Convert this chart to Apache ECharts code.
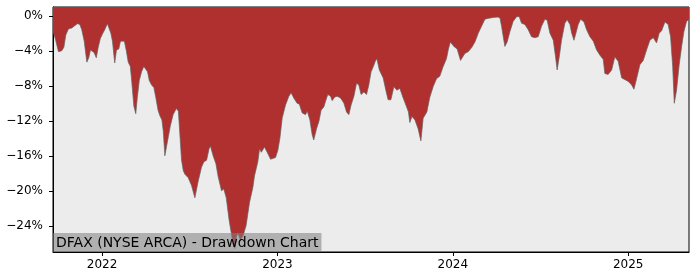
<!DOCTYPE html>
<html>
<head>
<meta charset="utf-8">
<script src="https://cdn.jsdelivr.net/npm/echarts@6/dist/echarts.min.js"></script>
<style>html,body{margin:0;padding:0;background:#fff;}#chart{width:700px;height:280px;}</style>
</head>
<body>
<div id="chart"></div>
<script>
// Time (decimal years)
var years = [
2021.720,2021.733,2021.751,2021.762,2021.770,2021.782,2021.793,2021.808,2021.827,2021.846,
2021.859,2021.873,2021.884,2021.898,2021.913,2021.924,2021.934,2021.945,2021.954,2021.967,
2021.978,2021.990,2022.004,2022.015,2022.030,2022.040,2022.050,2022.059,2022.072,2022.082,
2022.095,2022.105,2022.115,2022.127,2022.138,2022.149,2022.161,2022.169,2022.181,2022.192,
2022.201,2022.212,2022.225,2022.238,2022.249,2022.259,2022.269,2022.282,2022.295,2022.306,
2022.319,2022.329,2022.341,2022.349,2022.358,2022.367,2022.378,2022.389,2022.405,2022.423,
2022.435,2022.445,2022.453,2022.463,2022.472,2022.491,2022.510,2022.529,2022.538,2022.548,
2022.567,2022.580,2022.596,2022.610,2022.618,2022.633,2022.649,2022.662,2022.681,2022.694,
2022.708,2022.724,2022.738,2022.748,2022.757,2022.766,2022.774,2022.788,2022.803,2022.821,
2022.841,2022.860,2022.869,2022.888,2022.898,2022.908,2022.926,2022.939,2022.961,2022.989,
2023.002,2023.014,2023.027,2023.046,2023.065,2023.078,2023.093,2023.112,2023.125,2023.141,
2023.160,2023.170,2023.185,2023.198,2023.207,2023.223,2023.236,2023.249,2023.265,2023.274,
2023.287,2023.303,2023.312,2023.326,2023.340,2023.360,2023.379,2023.394,2023.407,2023.420,
2023.436,2023.451,2023.464,2023.477,2023.493,2023.508,2023.521,2023.534,2023.547,2023.558,
2023.567,2023.581,2023.603,2023.618,2023.631,2023.647,2023.664,2023.681,2023.698,2023.717,
2023.736,2023.747,2023.755,2023.767,2023.784,2023.802,2023.818,2023.831,2023.852,2023.869,
2023.888,2023.907,2023.926,2023.943,2023.964,2023.975,2023.986,2023.995,2024.006,2024.025,
2024.044,2024.052,2024.069,2024.088,2024.097,2024.109,2024.126,2024.134,2024.145,2024.164,
2024.183,2024.200,2024.230,2024.257,2024.269,2024.278,2024.287,2024.297,2024.310,2024.326,
2024.344,2024.364,2024.379,2024.392,2024.411,2024.430,2024.449,2024.468,2024.487,2024.506,
2024.525,2024.538,2024.554,2024.573,2024.586,2024.595,2024.607,2024.620,2024.639,2024.652,
2024.668,2024.678,2024.691,2024.702,2024.715,2024.729,2024.748,2024.763,2024.782,2024.801,
2024.820,2024.839,2024.858,2024.867,2024.886,2024.906,2024.924,2024.943,2024.963,2024.982,
2025.000,2025.020,2025.033,2025.048,2025.067,2025.086,2025.105,2025.124,2025.143,2025.162,
2025.177,2025.191,2025.210,2025.228,2025.242,2025.254,2025.263,2025.276,2025.291,2025.305,
2025.318,2025.333,2025.347
];
// Drawdown in percent
var drawdown = [
-1.8,-2.6,-4.1,-4.3,-4.0,-3.6,-2.2,-1.5,-1.4,-1.1,
-0.9,-1.0,-1.6,-2.9,-5.3,-4.8,-3.9,-3.7,-4.2,-4.8,
-3.6,-2.6,-2.0,-1.6,-0.9,-1.0,-2.0,-2.9,-5.4,-3.9,
-3.8,-2.9,-3.0,-2.9,-4.0,-5.3,-5.8,-7.5,-10.3,-11.2,
-9.3,-7.4,-6.4,-5.8,-5.6,-6.4,-7.4,-7.9,-8.2,-9.3,
-10.8,-11.4,-11.9,-13.2,-16.0,-15.0,-13.8,-12.6,-11.3,-10.6,
-10.9,-14.0,-16.5,-17.7,-18.1,-18.5,-19.4,-20.8,-20.7,-18.9,
-17.3,-16.7,-16.5,-15.2,-14.9,-16.0,-16.9,-18.4,-20.0,-19.8,
-20.8,-23.3,-25.0,-26.2,-26.6,-25.3,-24.8,-25.6,-25.2,-24.0,
-21.3,-19.6,-18.3,-16.7,-15.2,-15.6,-15.0,-15.5,-16.4,-16.2,
-15.4,-14.0,-11.7,-10.2,-9.2,-8.8,-9.4,-10.0,-10.1,-11.1,
-11.3,-10.9,-11.9,-13.6,-14.2,-12.9,-12.1,-10.8,-10.4,-9.8,
-9.0,-9.2,-9.7,-9.3,-9.2,-9.4,-10.0,-11.0,-11.3,-10.2,
-9.2,-7.7,-7.9,-9.0,-8.7,-9.0,-7.9,-6.4,-5.8,-5.2,
-4.9,-6.2,-7.1,-8.5,-9.6,-9.6,-8.1,-8.5,-8.3,-9.4,
-10.4,-11.0,-12.2,-11.5,-11.9,-12.9,-14.3,-11.7,-11.0,-9.3,
-8.1,-7.2,-6.9,-5.9,-4.9,-3.8,-3.0,-3.0,-3.5,-3.8,
-5.1,-5.0,-4.3,-4.1,-3.9,-3.6,-3.0,-2.6,-2.0,-1.2,
-0.4,-0.3,-0.2,-0.15,-0.25,-1.2,-2.3,-3.5,-3.0,-1.8,
-0.65,-0.1,-0.1,-0.85,-1.0,-1.6,-2.4,-2.5,-2.4,-1.2,
-0.4,-0.5,-2.0,-2.8,-4.7,-6.2,-4.7,-2.8,-0.85,-0.45,
-1.0,-2.0,-2.8,-2.0,-1.0,-0.4,-0.7,-1.6,-2.4,-2.9,
-3.9,-4.5,-5.0,-6.6,-6.7,-6.2,-4.7,-5.2,-7.1,-7.3,
-7.5,-7.9,-8.4,-7.2,-5.6,-5.1,-3.9,-2.8,-2.5,-3.1,
-2.0,-1.7,-0.7,-1.0,-2.4,-5.8,-10.0,-8.5,-5.6,-3.5,
-1.8,-0.65,-0.4
];
var xTickYears = [2022, 2023, 2024, 2025];
var yTickValues = [-24, -20, -16, -12, -8, -4, 0];
var chartTitle = 'DFAX (NYSE ARCA) - Drawdown Chart';

var seriesData = years.map(function (t, i) { return [t, drawdown[i]]; });
var font = 'DejaVu Sans';

var chart = echarts.init(document.getElementById('chart'), null, {renderer: 'canvas'});
chart.setOption({
  animation: false,
  backgroundColor: '#ffffff',
  title: {
    text: chartTitle,
    left: 53,
    top: 233,
    padding: [2, 3, 1, 3],
    backgroundColor: 'rgba(128,128,128,0.55)',
    textStyle: {fontFamily: font, fontSize: 14, fontWeight: 'normal', color: '#000', lineHeight: 16}
  },
  grid: {
    left: 53, right: 11, top: 7, bottom: 28,
    show: true, backgroundColor: '#ececec', borderColor: '#000', borderWidth: 1
  },
  xAxis: {
    type: 'value',
    min: 'dataMin', max: 'dataMax',
    splitLine: {show: false},
    axisLine: {show: true, onZero: false, lineStyle: {color: '#000', width: 1}},
    axisTick: {show: true, length: 4, lineStyle: {color: '#000'}, customValues: xTickYears},
    axisLabel: {fontFamily: font, fontSize: 12, color: '#000', margin: 7, customValues: xTickYears,
      formatter: function (v) { return String(Math.round(v)); }}
  },
  yAxis: {
    type: 'value',
    min: -27.0, max: 1.0,
    splitLine: {show: false},
    axisLine: {show: true, onZero: false, lineStyle: {color: '#000', width: 1}},
    axisTick: {show: true, length: 4, lineStyle: {color: '#000'}, customValues: yTickValues},
    axisLabel: {fontFamily: font, fontSize: 12, color: '#000', margin: 10, customValues: yTickValues,
      formatter: function (v) { return v === 0 ? '0%' : '\u2212' + Math.abs(v) + '%'; }}
  },
  series: [{
    type: 'line',
    data: seriesData,
    showSymbol: false,
    smooth: false,
    lineStyle: {color: 'rgba(100,100,100,0.7)', width: 1},
    areaStyle: {color: '#b03030', opacity: 1, origin: 'end'},
    z: 2
  }]
});
</script>
</body>
</html>
